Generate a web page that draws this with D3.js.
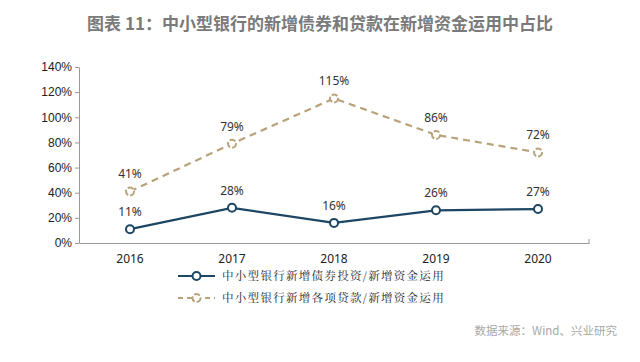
<!DOCTYPE html>
<html>
<head>
<meta charset="utf-8">
<script src="https://cdn.jsdelivr.net/npm/d3@7"></script>
<style>
body{margin:0;background:#fff;}
svg{display:block;font-family:"Noto Sans CJK SC","Noto Sans",sans-serif;}
</style>
</head>
<body>
<svg></svg>
<script>
var width = 640;
var height = 362;

var years = ['2016','2017','2018','2019','2020'];
var bondShare = [11, 28, 16, 26, 27];
var loanShare = [41, 79, 115, 86, 72];
var yTicks = [0, 20, 40, 60, 80, 100, 120, 140];
var seriesNames = ['中小型银行新增债券投资/新增资金运用', '中小型银行新增各项贷款/新增资金运用'];

var blue = '#1d4663';
var tan = '#b8a27a';

var svg = d3.select('svg')
    .attr('width', width)
    .attr('height', height);

var Xscale = d3.scaleBand().domain(years).range([79, 589]);
var Yscale = d3.scaleLinear().domain([0, 140]).range([243, 67]);

// title
svg.append('text')
    .attr('x', 320)
    .attr('y', 30)
    .attr('text-anchor', 'middle')
    .attr('fill', '#7a7a7a')
    .style('font-size', '17px')
    .style('font-weight', 'bold')
    .text('图表 11：中小型银行的新增债券和贷款在新增资金运用中占比');

var Yaxis = d3.axisLeft(Yscale)
    .tickValues(yTicks)
    .tickFormat(d => d + '%')
    .tickSize(4)
    .tickSizeOuter(0);

var gy = svg.append('g')
    .attr('transform', 'translate(79,0)')
    .call(Yaxis);
gy.select('.domain').attr('stroke', '#999');
gy.selectAll('.tick line').attr('stroke', '#999');
gy.selectAll('.tick text')
    .attr('fill', '#222')
    .attr('x', -7)
    .style('font-family', '"Liberation Sans",Arial,sans-serif')
    .style('font-size', '12px');

var Xaxis = d3.axisBottom(Xscale)
    .tickSize(0)
    .tickSizeOuter(0);

var gx = svg.append('g')
    .attr('transform', 'translate(0,243)')
    .call(Xaxis);
gx.select('.domain').attr('stroke', '#999');
gx.selectAll('.tick text')
    .attr('fill', '#222')
    .attr('dy', '1.4em')
    .style('font-family', '"Noto Sans","Open Sans",sans-serif')
    .style('font-size', '12px');
gx.append('line')
    .attr('x1', 589).attr('x2', 589)
    .attr('y1', 0).attr('y2', -4)
    .attr('stroke', '#999');

var cx = d => Xscale(d) + Xscale.bandwidth() / 2;

var series = [
    {name: seriesNames[0], values: bondShare, color: blue, dash: null},
    {name: seriesNames[1], values: loanShare, color: tan, dash: '7,5'}
];

var line = d3.line()
    .x((d, i) => cx(years[i]))
    .y(d => Yscale(d));

series.forEach(function (s) {
    svg.append('path')
        .datum(s.values)
        .attr('d', line)
        .attr('fill', 'none')
        .attr('stroke', s.color)
        .attr('stroke-width', 2.2)
        .attr('stroke-dasharray', s.dash);

    svg.selectAll(null)
        .data(s.values)
        .enter()
        .append('circle')
        .attr('cx', (d, i) => cx(years[i]))
        .attr('cy', d => Yscale(d))
        .attr('r', 4)
        .attr('fill', '#fff')
        .attr('stroke', s.color)
        .attr('stroke-width', 2)
        .attr('stroke-dasharray', s.dash ? '6,2' : null);

    svg.selectAll(null)
        .data(s.values)
        .enter()
        .append('text')
        .attr('x', (d, i) => cx(years[i]))
        .attr('y', d => Yscale(d) - 13)
        .attr('text-anchor', 'middle')
        .attr('fill', '#333')
        .style('font-family', '"Noto Sans","Open Sans",sans-serif')
        .style('font-size', '12px')
        .text(d => d + '%');
});

// legend
var legend = svg.selectAll('.legend')
    .data(series)
    .enter()
    .append('g')
    .attr('class', 'legend')
    .attr('transform', (d, i) => `translate(178,${276 + i * 22})`);

legend.append('line')
    .attr('x1', 0).attr('x2', 37)
    .attr('stroke', d => d.color)
    .attr('stroke-width', 2.2)
    .attr('stroke-dasharray', d => d.dash ? '5,4' : null);

legend.append('circle')
    .attr('cx', 18.5)
    .attr('r', 4)
    .attr('fill', '#fff')
    .attr('stroke', d => d.color)
    .attr('stroke-width', 2)
    .attr('stroke-dasharray', d => d.dash ? '6,2' : null);

legend.append('text')
    .attr('x', 44)
    .attr('y', 4)
    .attr('fill', '#222')
    .style('font-family', '"Noto Serif CJK SC","Noto Sans CJK SC",serif')
    .style('font-size', '11.5px')
    .style('letter-spacing', '1.3px')
    .text(d => d.name);

// source
svg.append('text')
    .attr('x', 617)
    .attr('y', 335)
    .attr('text-anchor', 'end')
    .attr('fill', '#a8a8a8')
    .style('font-size', '11.5px')
    .text('数据来源：Wind、兴业研究');
</script>
</body>
</html>
